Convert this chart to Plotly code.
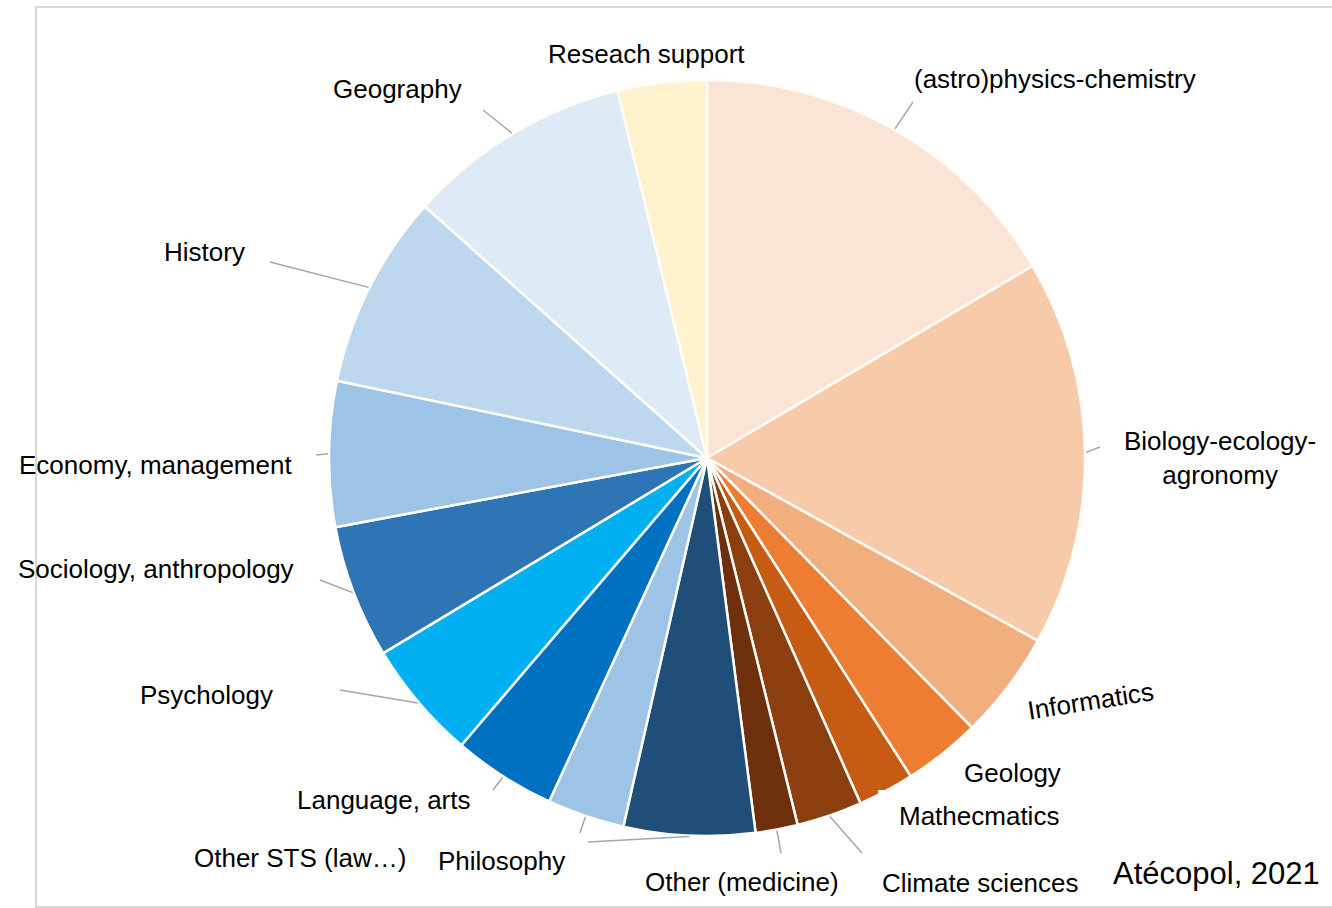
import math
import plotly.graph_objects as go

# Disciplines of Atécopol members (share of members, %), clockwise from 12 o'clock
disciplines = [
    "(astro)physics-chemistry",
    "Biology-ecology-agronomy",
    "Informatics",
    "Geology",
    "Mathecmatics",
    "Climate sciences",
    "Other (medicine)",
    "Philosophy",
    "Other STS (law…)",
    "Language, arts",
    "Psychology",
    "Sociology, anthropology",
    "Economy, management",
    "History",
    "Geography",
    "Reseach support",
]
shares = [16.5, 16.5, 4.6, 3.3, 2.4, 2.8, 1.8, 5.6, 3.3, 4.4, 5.1, 5.7, 6.2, 8.3, 9.6, 3.8]
colors = [
    "#FAE4D5", "#F7CBA9", "#F1AF80", "#EC7D33", "#C65B14", "#8B3F0F", "#6E300C",
    "#1F4E79", "#9DC3E6", "#0070C0", "#00B0F0", "#2E75B6", "#9DC3E6", "#BDD7EE",
    "#DEEBF7", "#FFF2CC",
]

W, H = 1332, 908
CX, CY, R = 707, 458, 378  # pie centre and radius in pixels


def px(x, y):
    return x / W, 1 - y / H


# label placement (pixels) and where each leader line ends
label_pos = {
    "(astro)physics-chemistry": (1055, 79),
    "Biology-ecology-agronomy": (1220, 458),
    "Informatics": (1090, 701),
    "Geology": (1012, 773),
    "Mathecmatics": (979, 816),
    "Climate sciences": (980, 883),
    "Other (medicine)": (742, 882),
    "Philosophy": (501, 861),
    "Other STS (law…)": (300, 858),
    "Language, arts": (383, 800),
    "Psychology": (206, 695),
    "Sociology, anthropology": (156, 569),
    "Economy, management": (155, 465),
    "History": (204, 252),
    "Geography": (397, 89),
    "Reseach support": (646, 54),
}
leader_end = {
    "(astro)physics-chemistry": (913, 102),
    "Biology-ecology-agronomy": (1100, 447),
    "Climate sciences": (862, 853),
    "Other (medicine)": (781, 853),
    "Philosophy": (588, 842),
    "Other STS (law…)": (580, 833),
    "Language, arts": (493, 790),
    "Psychology": (340, 690),
    "Sociology, anthropology": (320, 580),
    "Economy, management": (316, 455),
    "History": (270, 262),
    "Geography": (483, 110),
}

fig = go.Figure(
    go.Pie(
        labels=disciplines,
        values=shares,
        sort=False,
        direction="clockwise",
        rotation=0,
        marker=dict(colors=colors, line=dict(color="#FFFDF8", width=2.5)),
        textinfo="none",
        hoverinfo="label+percent",
        showlegend=False,
        domain=dict(x=[(CX - R) / W, (CX + R) / W], y=[1 - (CY + R) / H, 1 - (CY - R) / H]),
    )
)

shapes = []
# outer frame
x0, y0 = px(36, 7)
x1, y1 = px(1340, 907)
shapes.append(dict(type="rect", xref="paper", yref="paper", x0=x0, y0=y1, x1=x1, y1=y0,
                   line=dict(color="#D9D9D9", width=2), fillcolor="rgba(0,0,0,0)", layer="below"))

# leader lines from the middle of each slice's rim
total = sum(shares)
cum = 0.0
for name, v in zip(disciplines, shares):
    mid = (cum + v / 2) / total * 2 * math.pi
    cum += v
    if name not in leader_end:
        continue
    sx = CX + (R + 1) * math.sin(mid)
    sy = CY - (R + 1) * math.cos(mid)
    ex, ey = leader_end[name]
    a, b = px(sx, sy)
    c, d = px(ex, ey)
    shapes.append(dict(type="line", xref="paper", yref="paper", x0=a, y0=b, x1=c, y1=d,
                       line=dict(color="#A6A6A6", width=1.5), layer="above"))

# white label box that overlaps the pie edge next to "Mathecmatics"
bx0, by0 = px(878, 790)
bx1, by1 = px(1062, 850)
shapes.append(dict(type="rect", xref="paper", yref="paper", x0=bx0, y0=by1, x1=bx1, y1=by0,
                   line=dict(width=0), fillcolor="white", layer="above"))

annotations = []
for name in disciplines:
    x, y = label_pos[name]
    xp, yp = px(x, y)
    text = "Biology-ecology-<br>agronomy" if name == "Biology-ecology-agronomy" else name
    annotations.append(dict(
        x=xp, y=yp, xref="paper", yref="paper", text=text, showarrow=False,
        xanchor="center", yanchor="middle", align="center",
        textangle=-9 if name == "Informatics" else 0,
        font=dict(family="Liberation Sans, Arial, sans-serif", size=26, color="#000000"),
    ))

sx_, sy_ = px(1216, 873)
annotations.append(dict(
    x=sx_, y=sy_, xref="paper", yref="paper", text="Atécopol, 2021", showarrow=False,
    xanchor="center", yanchor="middle",
    font=dict(family="Liberation Sans, Arial, sans-serif", size=31, color="#000000"),
))

fig.update_layout(
    width=W, height=H,
    margin=dict(l=0, r=0, t=0, b=0),
    paper_bgcolor="white", plot_bgcolor="white",
    shapes=shapes, annotations=annotations,
)

fig.write_html("out.html")
